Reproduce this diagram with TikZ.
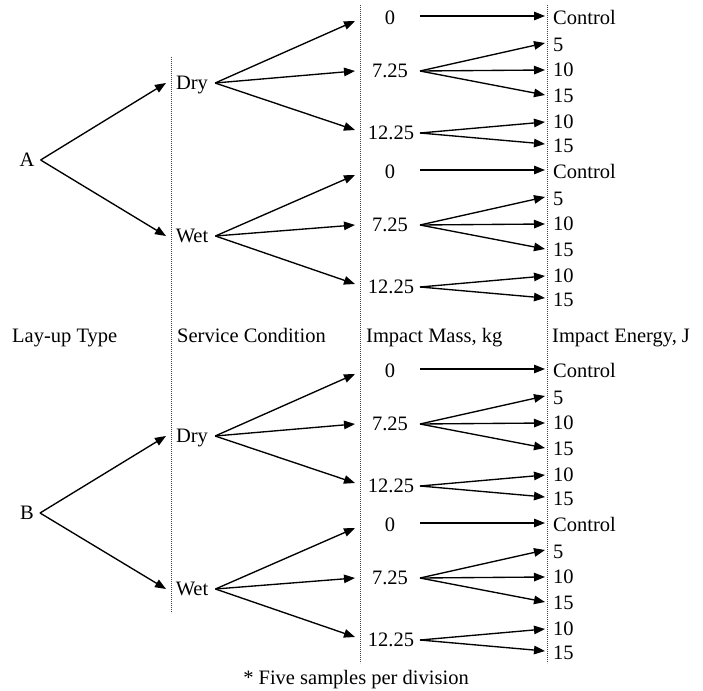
\documentclass[tikz,border=0pt]{standalone}
\usepackage{fontspec}
\setmainfont{Liberation Serif}
\usetikzlibrary{arrows.meta}
\begin{document}
\begin{tikzpicture}[x=1pt,y=-1pt,
  lbl/.style={inner sep=0pt, text height=13pt, text depth=0pt, font=\fontsize{20.5}{24}\selectfont},
  arr/.style={line width=1.35pt, -{Triangle[length=11pt,width=8.5pt]}},
  guide/.style={line width=0.6pt, dash pattern=on 0.8pt off 1.2pt, black!75}]
\useasboundingbox (0,0) rectangle (703,690);
\fill[white] (0,0) rectangle (703,690);
\coordinate (tipS) at (166,0);
\coordinate (tipM) at (355,0);
\coordinate (srcE) at (420,0);
\coordinate (tipE) at (545,0);
% guide lines
\draw[guide] (171,57) -- (171,613);
\draw[guide] (360.5,5) -- (360.5,663);
\draw[guide] (547,5) -- (547,663);
% headers
\node[lbl,anchor=west] (h1) at (12,336) {Lay-up Type};
\node[lbl,anchor=west] (h2) at (177,336) {Service Condition};
\node[lbl,anchor=west] (h3) at (366,336) {Impact Mass, kg};
\node[lbl,anchor=west] (h4) at (552,336) {Impact Energy, J};
\node[lbl] (note) at (356,678) {* Five samples per division};
\foreach \L/\o in {A/0,B/353}{
  \node[lbl] (\L) at (27,160+\o) {\L};
  \foreach \S/\txt/\so/\sy in {d/Dry/0/83, w/Wet/154/236}{
    \node[lbl] (\L\S) at (192,\sy+\o) {\txt};
    \draw[arr] ([xshift=6pt]\L.east) -- (\L\S.west -| tipS);
    \node[lbl] (\L\S-m0) at (390,18+\o+\so) {0};
    \node[lbl] (\L\S-m1) at (390,71+\o+\so) {7.25};
    \node[lbl] (\L\S-m2) at (391,133+\o+\so) {12.25};
    \node[lbl,anchor=west] (\L\S-ec) at (553,18+\o+\so) {Control};
    \node[lbl,anchor=west] (\L\S-e5) at (553,45+\o+\so) {5};
    \node[lbl,anchor=west] (\L\S-e10) at (553,70+\o+\so) {10};
    \node[lbl,anchor=west] (\L\S-e15) at (553,96+\o+\so) {15};
    \node[lbl,anchor=west] (\L\S-f10) at (553,122+\o+\so) {10};
    \node[lbl,anchor=west] (\L\S-f15) at (553,146+\o+\so) {15};
    \draw[arr] ([xshift=7pt]\L\S.east) -- ([yshift=-3pt]\L\S-m0.west -| tipM);
    \draw[arr] ([xshift=7pt]\L\S.east) -- (\L\S-m1.west -| tipM);
    \draw[arr] ([xshift=7pt]\L\S.east) -- ([yshift=3pt]\L\S-m2.west -| tipM);
    \draw[arr] ([yshift=2pt]\L\S-m0 -| srcE) -- ([yshift=2pt]\L\S-ec.west -| tipE);
    \draw[arr] (\L\S-m1 -| srcE) -- ([yshift=2pt]\L\S-e5.west -| tipE);
    \draw[arr] (\L\S-m1 -| srcE) -- (\L\S-e10.west -| tipE);
    \draw[arr] (\L\S-m1 -| srcE) -- ([yshift=1pt]\L\S-e15.west -| tipE);
    \draw[arr] (\L\S-m2 -| srcE) -- (\L\S-f10.west -| tipE);
    \draw[arr] (\L\S-m2 -| srcE) -- ([yshift=2pt]\L\S-f15.west -| tipE);
  }
}
\end{tikzpicture}
\end{document}
